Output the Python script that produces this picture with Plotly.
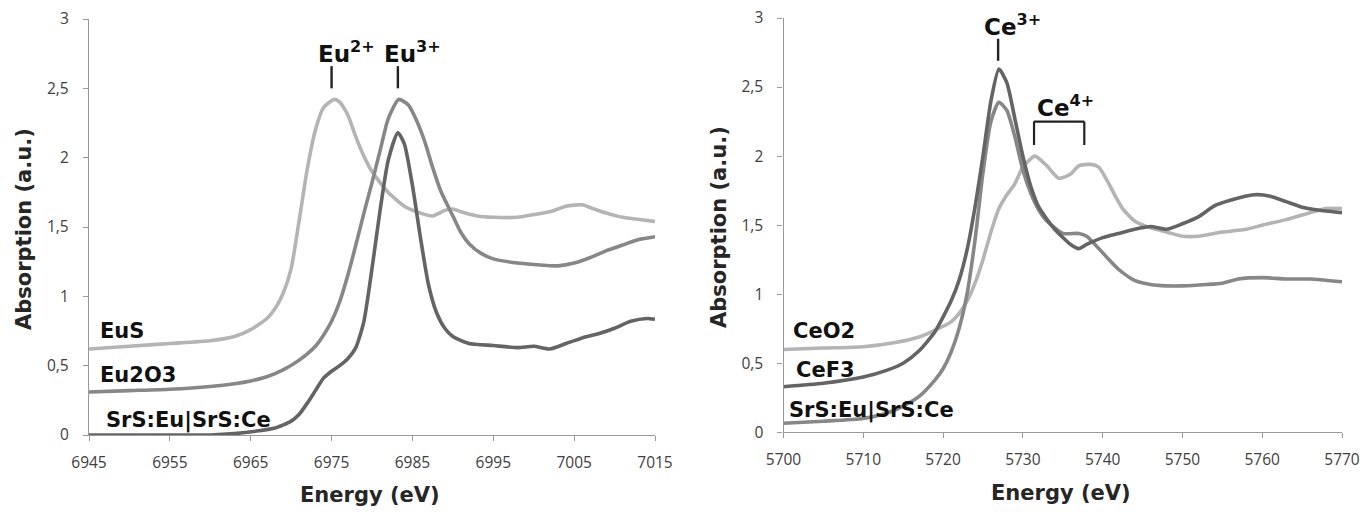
import plotly.graph_objects as go

# ---------------- Data: Eu L3-edge (left panel) ----------------
eus_x = [6945, 6950, 6955, 6960, 6963, 6965, 6967, 6968, 6969, 6970, 6971, 6972, 6973, 6974,
         6975.3, 6976, 6977, 6978, 6979, 6980, 6982, 6984, 6986, 6987.5, 6989, 6990, 6991,
         6993, 6995, 6998, 7000, 7002, 7004, 7006, 7007, 7009, 7011, 7015]
eus_y = [0.62, 0.64, 0.66, 0.68, 0.71, 0.76, 0.84, 0.91, 1.02, 1.2, 1.55, 1.92, 2.2, 2.36,
         2.42, 2.4, 2.31, 2.15, 2.01, 1.9, 1.75, 1.65, 1.6, 1.58, 1.62, 1.63, 1.61,
         1.58, 1.57, 1.57, 1.59, 1.61, 1.65, 1.66, 1.64, 1.6, 1.57, 1.54]

eu2o3_x = [6945, 6950, 6955, 6960, 6963, 6965, 6967, 6969, 6971, 6973, 6974, 6975, 6976, 6977,
           6978, 6979, 6980, 6981, 6982, 6983.3, 6984.5, 6985.5, 6986.5, 6987.5, 6988.5, 6990,
           6991, 6992, 6993.5, 6995, 6998, 7000, 7003, 7005, 7007, 7009, 7011, 7013, 7015]
eu2o3_y = [0.31, 0.32, 0.33, 0.35, 0.37, 0.39, 0.42, 0.47, 0.54, 0.64, 0.72, 0.82, 0.96, 1.15,
           1.37, 1.6, 1.82, 2.05, 2.28, 2.42, 2.38, 2.27, 2.12, 1.93, 1.76, 1.58,
           1.46, 1.38, 1.31, 1.27, 1.24, 1.23, 1.22, 1.24, 1.28, 1.33, 1.37, 1.41, 1.43]

srs_eu_x = [6945, 6955, 6960, 6963, 6966, 6968, 6970, 6971, 6972, 6973, 6974, 6975, 6976, 6977,
            6978, 6979, 6980, 6981, 6982, 6983.2, 6984, 6985, 6986, 6987, 6988, 6989, 6990,
            6992, 6995, 6998, 7000, 7002, 7004, 7006, 7008, 7010, 7012, 7014, 7015]
srs_eu_y = [0.0, 0.0, 0.0, 0.01, 0.03, 0.05, 0.1, 0.15, 0.23, 0.32, 0.41, 0.46, 0.5, 0.55,
            0.63, 0.82, 1.2, 1.62, 1.98, 2.18, 2.1, 1.8, 1.42, 1.08, 0.88, 0.77, 0.71,
            0.66, 0.645, 0.63, 0.64, 0.62, 0.66, 0.7, 0.73, 0.77, 0.82, 0.84, 0.835]

# ---------------- Data: Ce L3-edge (right panel) ----------------
ceo2_x = [5700, 5705, 5710, 5714, 5717, 5719, 5721, 5722, 5723, 5724, 5725, 5726, 5727, 5728,
          5729, 5730, 5731.5, 5733, 5734.5, 5736, 5737, 5738.5, 5739.5, 5740.5, 5741.5, 5742.5,
          5744, 5746, 5748, 5750, 5752, 5755, 5758, 5760, 5763, 5766, 5768, 5770]
ceo2_y = [0.6, 0.61, 0.62, 0.65, 0.69, 0.74, 0.8, 0.86, 0.95, 1.08, 1.25, 1.45, 1.62, 1.72,
          1.8, 1.92, 2.0, 1.93, 1.84, 1.87, 1.93, 1.94, 1.92, 1.83, 1.72, 1.62,
          1.53, 1.48, 1.45, 1.42, 1.42, 1.45, 1.47, 1.5, 1.54, 1.59, 1.62, 1.62]

cef3_x = [5700, 5705, 5710, 5713, 5715, 5717, 5719, 5721, 5722, 5723, 5724, 5725, 5726, 5727,
          5728, 5729, 5730, 5731, 5732, 5734, 5736, 5737, 5738, 5740, 5742, 5744, 5746, 5748,
          5750, 5752, 5754, 5756, 5759, 5761, 5763, 5765, 5767, 5770]
cef3_y = [0.33, 0.355, 0.4, 0.45, 0.5, 0.59, 0.73, 0.95, 1.1, 1.32, 1.63, 2.0, 2.4, 2.63,
          2.53, 2.27, 2.0, 1.78, 1.63, 1.47, 1.36, 1.33, 1.36, 1.41, 1.44, 1.47, 1.49, 1.47,
          1.51, 1.56, 1.64, 1.68, 1.72, 1.71, 1.67, 1.63, 1.61, 1.59]

srs_ce_x = [5700, 5705, 5710, 5713, 5715, 5717, 5719, 5720, 5721, 5722, 5723, 5724, 5725, 5726,
            5727, 5728, 5729, 5730, 5731, 5732, 5733, 5735, 5737, 5738, 5740, 5742, 5744, 5746,
            5748, 5750, 5753, 5755, 5757, 5760, 5763, 5766, 5770]
srs_ce_y = [0.065, 0.08, 0.1, 0.14, 0.19, 0.26, 0.38, 0.46, 0.58, 0.75, 1.0, 1.39, 1.88, 2.25,
            2.39, 2.33, 2.14, 1.9, 1.73, 1.61, 1.53, 1.44, 1.44, 1.42, 1.3, 1.18, 1.1, 1.07,
            1.06, 1.06, 1.07, 1.08, 1.11, 1.12, 1.11, 1.11, 1.09]

y_tickvals = [0, 0.5, 1, 1.5, 2, 2.5, 3]
y_ticktext = ["0", "0,5", "1", "1,5", "2", "2,5", "3"]
left_xticks = [6945, 6955, 6965, 6975, 6985, 6995, 7005, 7015]
right_xticks = [5700, 5710, 5720, 5730, 5740, 5750, 5760, 5770]

LIGHT, MEDIUM, DARK = "#b4b4b4", "#878787", "#646464"
LW = 3.6
FONT = "DejaVu Sans"
TICK_FONT = "Open Sans"

# the page's body margin is removed by a post-script, so the figure fills the window
OFF = 0
W, H = 1360, 512

def px(xp):
    return (xp - OFF) / W

def py(yp):
    return 1 - (yp - OFF) / H

fig = go.Figure()

def add(x, y, color, xa, ya):
    fig.add_trace(go.Scatter(x=x, y=y, mode="lines", xaxis=xa, yaxis=ya,
                             line=dict(color=color, width=LW, shape="spline", smoothing=0.6),
                             showlegend=False, hoverinfo="skip"))

add(eus_x, eus_y, LIGHT, "x", "y")
add(eu2o3_x, eu2o3_y, MEDIUM, "x", "y")
add(srs_eu_x, srs_eu_y, DARK, "x", "y")
add(ceo2_x, ceo2_y, LIGHT, "x2", "y2")
add(srs_ce_x, srs_ce_y, MEDIUM, "x2", "y2")
add(cef3_x, cef3_y, DARK, "x2", "y2")

axis_common = dict(showgrid=False, zeroline=False, showline=True, linecolor="#9a9a9a",
                   linewidth=1.3, ticks="outside", ticklen=5, tickcolor="#9a9a9a",
                   automargin=False, ticklabeloverflow="allow",
                   tickfont=dict(family=TICK_FONT, size=15.5, color="#404040"))

fig.update_layout(
    width=W, height=H, autosize=False,
    margin=dict(l=0, r=0, t=0, b=0, autoexpand=False),
    paper_bgcolor="white", plot_bgcolor="white",
    xaxis=dict(domain=[px(89), px(655)], range=[6945, 7015], tickvals=left_xticks,
               anchor="y", ticklabelstandoff=8, **axis_common),
    yaxis=dict(domain=[py(435), py(19)], range=[0, 3], tickvals=y_tickvals,
               ticktext=y_ticktext, anchor="x", ticklabelstandoff=11, **axis_common),
    xaxis2=dict(domain=[px(783.5), px(1342)], range=[5700, 5770], tickvals=right_xticks,
                anchor="y2", ticklabelstandoff=8, **axis_common),
    yaxis2=dict(domain=[py(432.3), py(18)], range=[0, 3], tickvals=y_tickvals,
                ticktext=y_ticktext, anchor="x2", ticklabelstandoff=11, **axis_common),
)

ann = []
# axis titles
title_font = dict(family=FONT, size=21, color="#262626")
for xc, yc in [(24, 229), (719, 227)]:
    ann.append(dict(text="<b>Absorption (a.u.)</b>", xref="paper", yref="paper",
                    x=px(xc), y=py(yc), textangle=-90, showarrow=False,
                    font=title_font, xanchor="center", yanchor="middle"))
for xc, yc in [(370, 495), (1061, 493)]:
    ann.append(dict(text="<b>Energy (eV)</b>", xref="paper", yref="paper",
                    x=px(xc), y=py(yc), showarrow=False,
                    font=dict(family=FONT, size=21, color="#262626"),
                    xanchor="center", yanchor="middle"))

# series labels
lab_font = dict(family=FONT, size=21, color="#111111")
series_labels = [("EuS", 6946.1, 0.75, "x", "y"), ("Eu2O3", 6946.1, 0.43, "x", "y"),
                 ("SrS:Eu|SrS:Ce", 6946.8, 0.105, "x", "y"),
                 ("CeO2", 5701.0, 0.73, "x2", "y2"), ("CeF3", 5701.3, 0.45, "x2", "y2"),
                 ("SrS:Eu|SrS:Ce", 5700.5, 0.16, "x2", "y2")]
for t, x, y, xr, yr in series_labels:
    ann.append(dict(text="<b>" + t + "</b>", x=x, y=y, xref=xr, yref=yr, showarrow=False,
                    xanchor="left", yanchor="middle", font=lab_font))

# peak markers
mark_font = dict(family=FONT, size=23, color="#111111")
peak_marks = [("Eu<sup>2+</sup>", 6975.0, 2.5, 2.66, "x", "y"),
              ("Eu<sup>3+</sup>", 6983.2, 2.5, 2.66, "x", "y"),
              ("Ce<sup>3+</sup>", 5726.9, 2.69, 2.85, "x2", "y2")]
shapes = []
for t, x, y0, y1, xr, yr in peak_marks:
    shapes.append(dict(type="line", x0=x, x1=x, y0=y0, y1=y1, xref=xr, yref=yr,
                       line=dict(color="#222222", width=2.4)))
    ann.append(dict(text="<b>" + t + "</b>", x=x, y=y1, xref=xr, yref=yr,
                    showarrow=False, xanchor="left", yanchor="bottom", xshift=-16,
                    yshift=-3, font=mark_font))

# Ce4+ bracket
br_x0, br_x1, br_y0, br_y1 = 5731.4, 5737.7, 2.08, 2.25
for (a, b, c, d) in [(br_x0, br_x0, br_y0, br_y1), (br_x1, br_x1, br_y0, br_y1),
                     (br_x0, br_x1, br_y1, br_y1)]:
    shapes.append(dict(type="line", x0=a, x1=b, y0=c, y1=d, xref="x2", yref="y2",
                       line=dict(color="#222222", width=2.2)))
ann.append(dict(text="<b>Ce<sup>4+</sup></b>", x=(br_x0 + br_x1) / 2, y=br_y1,
                xref="x2", yref="y2", showarrow=False, xanchor="center", yanchor="bottom",
                xshift=6, yshift=-1, font=mark_font))

fig.update_layout(annotations=ann, shapes=shapes)
fig.write_html("out.html",
               config={"displayModeBar": False},
               post_script="document.body.style.margin='0';"
                           "document.body.style.overflow='hidden';")
